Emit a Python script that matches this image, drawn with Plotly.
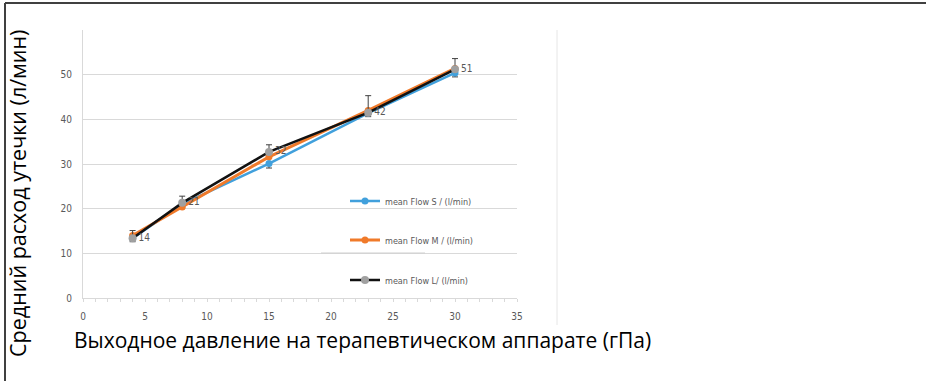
import plotly.graph_objects as go

pressure = [4, 8, 15, 23, 30]
flow_s = [13.4, 21.0, 30.1, 41.4, 50.4]
flow_m = [14.0, 20.4, 31.6, 42.0, 51.4]
flow_l = [13.4, 21.3, 32.7, 41.5, 51.2]
err_l_plus = [1.7, 1.5, 1.6, 3.8, 2.4]
err_s_minus = [0.8, 0.8, 1.0, 0.8, 0.9]
labels_l = ["14", "21", "32", "42", "51"]

narrow = "Liberation Sans Narrow, DejaVu Sans Condensed, Arial Narrow, sans-serif"
tick_color = "#595959"

fig = go.Figure()
fig.add_trace(go.Scatter(
    x=pressure, y=flow_s, mode="lines+markers", name="mean Flow S / (l/min)",
    line=dict(color="#41A0DC", width=2.5),
    marker=dict(color="#41A0DC", size=7),
    error_y=dict(type="data", symmetric=False, array=[0] * len(pressure),
                 arrayminus=err_s_minus, visible=True, color="#404040", thickness=1, width=3),
    legend="legend"))
fig.add_trace(go.Scatter(
    x=pressure, y=flow_m, mode="lines+markers", name="mean Flow M / (l/min)",
    line=dict(color="#F07A2A", width=3),
    marker=dict(color="#F07A2A", size=7), legend="legend2"))
fig.add_trace(go.Scatter(
    x=pressure, y=flow_l, mode="lines+markers+text", name="mean Flow L/ (l/min)",
    line=dict(color="#111111", width=2.5),
    marker=dict(color="#A0A0A0", size=8),
    text=labels_l, textposition="middle right",
    textfont=dict(family=narrow, size=10, color=tick_color),
    error_y=dict(type="data", symmetric=False, array=err_l_plus,
                 arrayminus=[0] * len(pressure), visible=True, color="#404040",
                 thickness=1, width=3),
    legend="legend3"))

# plot area pixel geometry
W, H = 926, 381
L, R, T, B = 83, 409, 30, 83
pw, ph = W - L - R, H - T - B

def px(x):
    return (x - L) / pw

def py(y):
    return (H - B - y) / ph

legend_common = dict(
    xanchor="left", yanchor="middle", bgcolor="rgba(0,0,0,0)",
    font=dict(family=narrow, size=9, color=tick_color), itemwidth=30,
    tracegroupgap=0)

fig.update_layout(
    width=W, height=H,
    margin=dict(l=L, r=R, t=T, b=B),
    paper_bgcolor="white", plot_bgcolor="white",
    showlegend=True,
    legend=dict(x=px(345), y=py(201), **legend_common),
    legend2=dict(x=px(345), y=py(240), **legend_common),
    legend3=dict(x=px(345), y=py(280), **legend_common),
    xaxis=dict(
        range=[0, 35], tickvals=[0, 5, 10, 15, 20, 25, 30, 35],
        showgrid=False, zeroline=False, showline=True, linecolor="#d9d9d9", linewidth=1,
        ticks="outside", ticklen=3, tickcolor="#d9d9d9",
        minor=dict(dtick=1, ticks="outside", ticklen=3, tickcolor="#d9d9d9"),
        tickfont=dict(family=narrow, size=10, color=tick_color),
        ticklabelstandoff=6),
    yaxis=dict(
        range=[0, 60], tickvals=[0, 10, 20, 30, 40, 50, 60],
        ticktext=["0", "10", "20", "30", "40", "50", ""],
        showgrid=True, gridcolor="#d9d9d9", gridwidth=1,
        zeroline=False, showline=True, linecolor="#d9d9d9", linewidth=1,
        ticks="", tickfont=dict(family=narrow, size=10, color=tick_color),
        ticklabelstandoff=8),
    annotations=[
        dict(text="Средний расход утечки (л/мин)", xref="paper", yref="paper",
             x=px(17), y=py(194), showarrow=False, textangle=-90,
             font=dict(family="Open Sans, sans-serif", size=21.5, color="black"),
             xanchor="center", yanchor="middle"),
        dict(text="Выходное давление на терапевтическом аппарате (гПа)",
             xref="paper", yref="paper", x=px(362), y=py(340), showarrow=False,
             font=dict(family="Open Sans, sans-serif", size=21, color="black"),
             xanchor="center", yanchor="middle"),
    ],
    shapes=[
        dict(type="line", xref="paper", yref="paper", x0=px(5), x1=px(926),
             y0=py(3), y1=py(3), line=dict(color="#404040", width=2)),
        dict(type="line", xref="paper", yref="paper", x0=px(5), x1=px(5),
             y0=py(3), y1=py(381), line=dict(color="#404040", width=2)),
        dict(type="line", xref="paper", yref="paper", x0=px(557), x1=px(557),
             y0=py(30), y1=py(325), line=dict(color="#e6e6e6", width=1)),
        dict(type="line", xref="paper", yref="paper", x0=px(321), x1=px(425),
             y0=py(253), y1=py(253), line=dict(color="#cfcfcf", width=1)),
    ],
)

fig.write_html("out.html", config={"displayModeBar": False},
               post_script="document.body.style.margin='0';")
